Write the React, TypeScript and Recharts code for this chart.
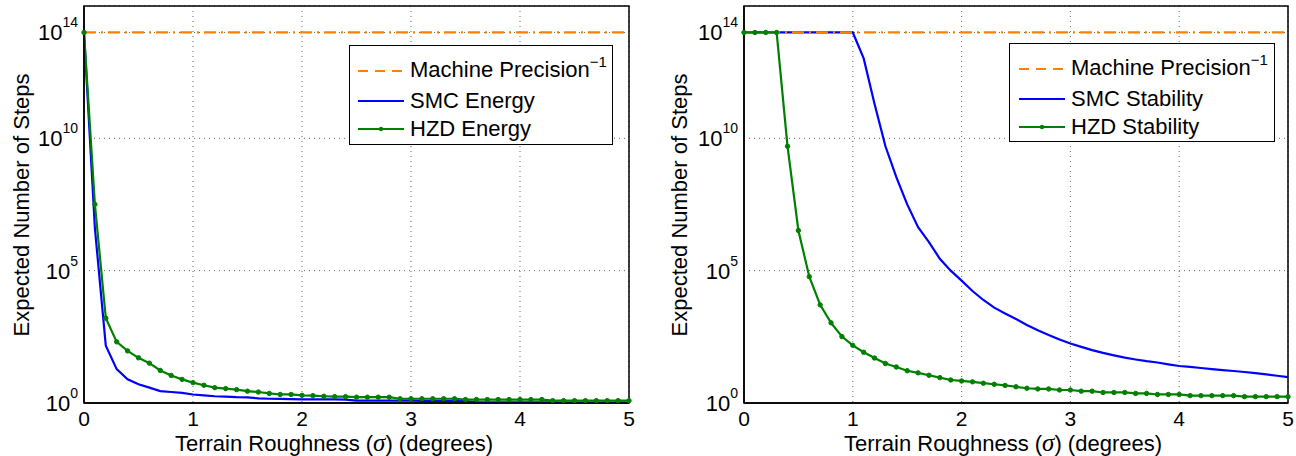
import React from 'react';
import { LineChart, Line, XAxis, YAxis, CartesianGrid, Legend, ReferenceArea } from 'recharts';

const FONT = '"Liberation Sans", Arial, Helvetica, sans-serif';

// terrain roughness sigma (degrees)
const sigma = [
  0, 0.1, 0.2, 0.3, 0.4, 0.5, 0.6, 0.7, 0.8, 0.9,
  1, 1.1, 1.2, 1.3, 1.4, 1.5, 1.6, 1.7, 1.8, 1.9,
  2, 2.1, 2.2, 2.3, 2.4, 2.5, 2.6, 2.7, 2.8, 2.9,
  3, 3.1, 3.2, 3.3, 3.4, 3.5, 3.6, 3.7, 3.8, 3.9,
  4, 4.1, 4.2, 4.3, 4.4, 4.5, 4.6, 4.7, 4.8, 4.9, 5,
];

const machinePrecisionInv = 1e14;

const smcEnergy = [
  1e14, 4e6, 145, 19, 7.9, 5.1, 3.8, 2.8, 2.6, 2.4,
  2.1, 1.95, 1.8, 1.74, 1.66, 1.62, 1.5, 1.45, 1.42, 1.4,
  1.38, 1.38, 1.36, 1.36, 1.35, 1.24, 1.23, 1.23, 1.22, 1.22,
  1.22, 1.21, 1.21, 1.2, 1.2, 1.18, 1.06, 1.06, 1.05, 1.05,
  1.05, 1.05, 1.05, 1.05, 1.04, 1.04, 1.04, 1.04, 1.04, 1.04, 1.04,
];

const hzdEnergy = [
  1e14, 3.2e7, 1600, 204, 93, 51, 32, 17, 11, 7.8,
  5.9, 4.7, 3.8, 3.5, 3.2, 2.8, 2.6, 2.3, 2.1, 2.1,
  1.95, 1.9, 1.8, 1.74, 1.74, 1.66, 1.66, 1.66, 1.66, 1.45,
  1.45, 1.45, 1.45, 1.45, 1.45, 1.35, 1.35, 1.35, 1.35, 1.35,
  1.35, 1.35, 1.35, 1.23, 1.23, 1.23, 1.23, 1.23, 1.23, 1.23, 1.23,
];

const smcStability = [
  1e14, 1e14, 1e14, 1e14, 1e14, 1e14, 1e14, 1e14, 1e14, 1e14,
  1e14, 1.05e13, 2e11, 5e9, 3.4e8, 3.2e7, 4.4e6, 1.2e6, 2.8e5, 1e5,
  4.2e4, 1.7e4, 7.8e3, 4e3, 2.4e3, 1.5e3, 890, 560, 370, 250,
  178, 132, 100, 78, 63, 52, 44, 38, 34, 29,
  25, 23, 21, 19, 17.4, 16.2, 14.8, 13.5, 12, 10.7, 9.5,
];

const hzdStability = [
  1e14, 1e14, 1e14, 1e14, 5e9, 3.3e6, 5.9e4, 5.1e3, 1070, 324,
  151, 83, 50, 31, 23, 16.6, 13.8, 11.2, 9.1, 7.4,
  6.8, 6.3, 5.6, 5.1, 4.6, 4.1, 3.6, 3.4, 3.4, 3.1,
  3.1, 2.8, 2.8, 2.5, 2.5, 2.5, 2.3, 2.3, 2.1, 2.1,
  2.1, 1.9, 1.9, 1.9, 1.9, 1.9, 1.74, 1.74, 1.74, 1.74, 1.74,
];

const xTicks = [0, 1, 2, 3, 4, 5];
const yTicks = [1, 1e5, 1e10, 1e14];

const energyData = sigma.map((s, i) => ({ sigma: s, smc: smcEnergy[i], hzd: hzdEnergy[i], mp: machinePrecisionInv }));
const stabilityData = sigma.map((s, i) => ({ sigma: s, smc: smcStability[i], hzd: hzdStability[i], mp: machinePrecisionInv }));

const BLUE = '#0000ff';
const GREEN = '#008000';
const ORANGE = '#ff8000';

const PowTick = (props: any) => {
  const { x, y, payload } = props;
  const e = Math.round(Math.log10(payload.value));
  return (
    <text x={x} y={y + 8} textAnchor="end" fontFamily={FONT} fontSize={22} fill="#000">
      <tspan>10</tspan>
      <tspan dy={-13} fontSize={14}>{e}</tspan>
    </text>
  );
};

const XTitle = ({ posX, posY }: any) => (
  <text x={posX} y={posY} textAnchor="middle" fontFamily={FONT} fontSize={22} fill="#000">
    Terrain Roughness (<tspan fontFamily='"Liberation Serif", serif' fontStyle="italic" fontSize={25}>σ</tspan>) (degrees)
  </text>
);

const YTitle = ({ posX, posY }: any) => (
  <text
    x={posX}
    y={posY}
    transform={`rotate(-90 ${posX} ${posY})`}
    textAnchor="middle"
    dominantBaseline="central"
    fontFamily={FONT}
    fontSize={22}
    fill="#000"
  >
    Expected Number of Steps
  </text>
);

interface LegendItem {
  label: string;
  color: string;
  dash?: string;
  dot?: boolean;
  sup?: string;
}

const LegendBox = ({ items, width, height, sampleLeft }: { items: LegendItem[]; width: number; height: number; sampleLeft: number }) => {
  const rowCenters = [25, 55, 83];
  return (
    <div
      style={{
        width,
        height,
        boxSizing: 'border-box',
        border: '1.5px solid #000',
        background: '#fff',
        position: 'relative',
        fontFamily: FONT,
        fontSize: 22,
        color: '#000',
      }}
    >
      {items.map((it, i) => (
        <div
          key={it.label}
          style={{ position: 'absolute', left: sampleLeft, top: rowCenters[i] - 15, height: 30, display: 'flex', alignItems: 'center' }}
        >
          <svg width={46} height={10}>
            <line x1={0} y1={5} x2={46} y2={5} stroke={it.color} strokeWidth={2} strokeDasharray={it.dash} />
            {it.dot && <circle cx={23} cy={5} r={2.2} fill={it.color} />}
          </svg>
          <span style={{ marginLeft: 6, whiteSpace: 'nowrap', lineHeight: '30px' }}>
            {it.label}
            {it.sup && <span style={{ fontSize: 15, position: 'relative', top: -10 }}>{it.sup}</span>}
          </span>
        </div>
      ))}
    </div>
  );
};

interface PanelProps {
  data: any[];
  yAxisWidth: number;
  marginRight: number;
  legendItems: LegendItem[];
  legendLeft: number;
  legendTop: number;
  legendWidth: number;
  legendHeight: number;
  sampleLeft: number;
  xTitleX: number;
  yTitleX: number;
}

const Panel = (p: PanelProps) => (
  <LineChart width={648} height={456} data={p.data} margin={{ top: 6, right: p.marginRight, bottom: 0, left: 0 }}>
    <CartesianGrid stroke="#666" strokeDasharray="1 4" />
    <XAxis
      dataKey="sigma"
      type="number"
      domain={[0, 5]}
      ticks={xTicks}
      height={53}
      tickLine={false}
      axisLine={{ stroke: '#000', strokeWidth: 1.5 }}
      tick={{ fontFamily: FONT, fontSize: 21, fill: '#000' }}
      label={<XTitle posX={p.xTitleX} posY={451} />}
    />
    <YAxis
      type="number"
      scale="log"
      domain={[1, 1e15]}
      allowDataOverflow
      ticks={yTicks}
      width={p.yAxisWidth}
      tickLine={false}
      tickSize={0}
      tickMargin={6}
      axisLine={{ stroke: '#000', strokeWidth: 1.5 }}
      tick={<PowTick />}
      label={<YTitle posX={p.yTitleX} posY={205} />}
    />
    <Line type="linear" dataKey="smc" stroke={BLUE} strokeWidth={2.2} dot={false} isAnimationActive={false} />
    <Line type="linear" dataKey="mp" stroke={ORANGE} strokeWidth={2.2} strokeDasharray="12 5 2 5" dot={false} isAnimationActive={false} />
    <Line
      type="linear"
      dataKey="hzd"
      stroke={GREEN}
      strokeWidth={2.2}
      dot={{ r: 2.2, fill: GREEN, stroke: GREEN, strokeWidth: 1 }}
      isAnimationActive={false}
    />
    <ReferenceArea x1={0} x2={5} y1={1} y2={1e15} fill="none" stroke="#000" strokeWidth={1.5} />
    <Legend
      layout="vertical"
      align="center"
      verticalAlign="middle"
      wrapperStyle={{ left: p.legendLeft, top: p.legendTop, width: p.legendWidth, height: p.legendHeight }}
      content={() => (
        <LegendBox items={p.legendItems} width={p.legendWidth} height={p.legendHeight} sampleLeft={p.sampleLeft} />
      )}
    />
  </LineChart>
);

const energyLegend: LegendItem[] = [
  { label: 'Machine Precision', color: ORANGE, dash: '10 7', sup: '−1' },
  { label: 'SMC Energy', color: BLUE },
  { label: 'HZD Energy', color: GREEN, dot: true },
];

const stabilityLegend: LegendItem[] = [
  { label: 'Machine Precision', color: ORANGE, dash: '10 7', sup: '−1' },
  { label: 'SMC Stability', color: BLUE },
  { label: 'HZD Stability', color: GREEN, dot: true },
];

export default function App() {
  return (
    <div style={{ position: 'fixed', left: 0, top: 0, width: 1296, height: 456, background: '#fff', display: 'flex' }}>
      <Panel
        data={energyData}
        yAxisWidth={84}
        marginRight={19}
        legendItems={energyLegend}
        legendLeft={349}
        legendTop={45}
        legendWidth={264}
        legendHeight={100}
        sampleLeft={8}
        xTitleX={334}
        yTitleX={21}
      />
      <Panel
        data={stabilityData}
        yAxisWidth={96}
        marginRight={8}
        legendItems={stabilityLegend}
        legendLeft={361}
        legendTop={43}
        legendWidth={266}
        legendHeight={99}
        sampleLeft={9}
        xTitleX={355}
        yTitleX={31}
      />
    </div>
  );
}
